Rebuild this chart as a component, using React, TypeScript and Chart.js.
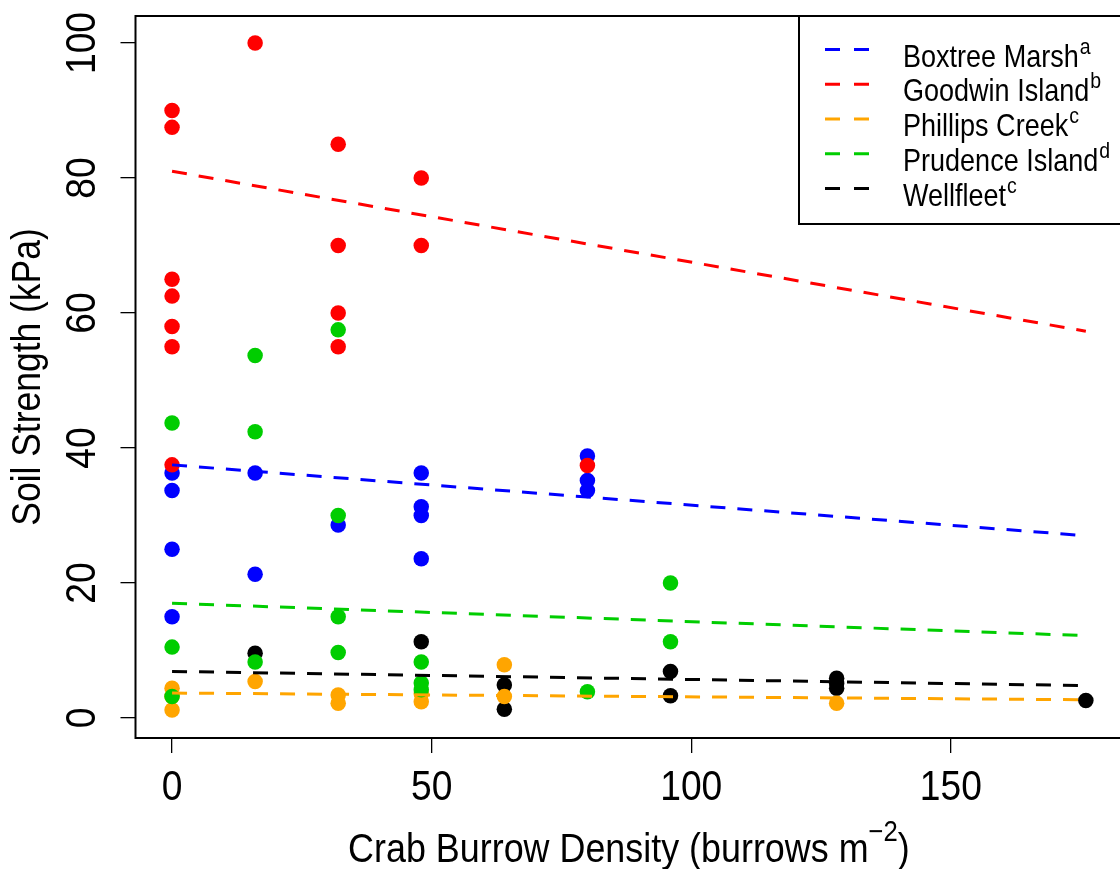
import React, { useEffect, useRef } from "react";
import { Chart, registerables } from "chart.js";

Chart.register(...registerables);

// ---------------- data ----------------
const SITES = ["Boxtree Marsh", "Goodwin Island", "Phillips Creek", "Prudence Island", "Wellfleet"];
const SITE_SUPS = ["a", "b", "c", "d", "c"];

const BOXTREE_X = [0, 0, 0, 0, 16, 16, 32, 48, 48, 48, 48, 80, 80, 80];
const BOXTREE_Y = [36.3, 33.7, 25.0, 15.0, 36.3, 21.3, 28.6, 36.3, 31.3, 30.0, 23.6, 38.8, 35.2, 33.7];

const GOODWIN_X = [0, 0, 0, 0, 0, 0, 0, 16, 32, 32, 32, 32, 48, 48, 80];
const GOODWIN_Y = [90.0, 87.5, 65.0, 62.5, 58.0, 55.0, 37.5, 100.0, 85.0, 70.0, 60.0, 55.0, 80.0, 70.0, 37.4];

const PHILLIPS_X = [0, 0, 0, 16, 32, 32, 48, 48, 64, 64, 128];
const PHILLIPS_Y = [4.4, 3.2, 1.2, 5.4, 3.4, 2.2, 3.6, 2.4, 7.9, 3.2, 2.2];

const PRUDENCE_X = [0, 0, 0, 16, 16, 16, 32, 32, 32, 32, 48, 48, 48, 80, 96, 96];
const PRUDENCE_Y = [43.7, 10.5, 3.2, 53.7, 42.4, 8.3, 57.5, 30.0, 15.0, 9.7, 8.3, 5.2, 4.2, 3.9, 20.0, 11.3];

const WELLFLEET_X = [16, 48, 64, 64, 96, 96, 128, 128, 128, 176];
const WELLFLEET_Y = [9.6, 11.3, 4.9, 1.3, 6.9, 3.3, 5.9, 5.1, 4.4, 2.6];

// fitted trend lines (end points)
const FIT_X = [0, 176];
const BOXTREE_FIT = [37.5, 27.0];
const GOODWIN_FIT = [81.0, 57.3];
const PHILLIPS_FIT = [3.7, 2.7];
const PRUDENCE_FIT = [17.0, 12.2];
const WELLFLEET_FIT = [6.9, 4.8];

const X_TICKS = [0, 50, 100, 150];
const Y_TICKS = [0, 20, 40, 60, 80, 100];

const X_TITLE_MAIN = "Crab Burrow Density (burrows m";
const X_TITLE_SUP = "\u22122";
const X_TITLE_END = ")";
const Y_TITLE = "Soil Strength (kPa)";

// ---------------- styles ----------------
const COLORS = ["#0000FF", "#FF0000", "#FFA500", "#00CD00", "#000000"];
const POINT_ORDER = [5, 4, 2, 1, 3]; // green on top, then orange, black, red, blue
const FONT = '"Liberation Sans", Arial, Helvetica, sans-serif';
const SX = 0.886; // glyph width compression

const POINTS_X = [BOXTREE_X, GOODWIN_X, PHILLIPS_X, PRUDENCE_X, WELLFLEET_X];
const POINTS_Y = [BOXTREE_Y, GOODWIN_Y, PHILLIPS_Y, PRUDENCE_Y, WELLFLEET_Y];
const FITS = [BOXTREE_FIT, GOODWIN_FIT, PHILLIPS_FIT, PRUDENCE_FIT, WELLFLEET_FIT];

type Part = { t: string; size: number; dy: number };

function drawRich(ctx: CanvasRenderingContext2D, parts: Part[], x: number, y: number, align: "center" | "left") {
  let total = 0;
  const widths = parts.map((p) => {
    ctx.font = `${p.size}px ${FONT}`;
    const w = ctx.measureText(p.t).width;
    total += w;
    return w;
  });
  ctx.save();
  ctx.translate(x, y);
  ctx.scale(SX, 1);
  let cx = align === "center" ? -total / 2 : 0;
  ctx.textAlign = "left";
  ctx.textBaseline = "alphabetic";
  parts.forEach((p, i) => {
    ctx.font = `${p.size}px ${FONT}`;
    ctx.fillText(p.t, cx, p.dy);
    cx += widths[i];
  });
  ctx.restore();
}

const decorPlugin = {
  id: "rdecor",
  afterDraw(chart: any) {
    const { ctx, chartArea: ca, scales } = chart;
    const xs = scales.x;
    const ys = scales.y;
    ctx.save();
    // plot box
    ctx.strokeStyle = "#000";
    ctx.lineWidth = 2;
    ctx.setLineDash([]);
    ctx.strokeRect(ca.left, ca.top, ca.right - ca.left, ca.bottom - ca.top);

    ctx.fillStyle = "#000";
    // x tick labels
    X_TICKS.forEach((v) => drawRich(ctx, [{ t: String(v), size: 42, dy: 0 }], xs.getPixelForValue(v), 800, "center"));
    // y tick labels (rotated)
    Y_TICKS.forEach((v) => {
      const y = ys.getPixelForValue(v);
      ctx.save();
      ctx.translate(95, y);
      ctx.rotate(-Math.PI / 2);
      drawRich(ctx, [{ t: String(v), size: 42, dy: 0 }], 0, 0, "center");
      ctx.restore();
    });

    // x title
    drawRich(
      ctx,
      [
        { t: X_TITLE_MAIN, size: 40.5, dy: 0 },
        { t: X_TITLE_SUP, size: 29, dy: -21 },
        { t: X_TITLE_END, size: 40.5, dy: 0 },
      ],
      (ca.left + ca.right) / 2,
      862,
      "center"
    );
    // y title
    ctx.save();
    ctx.translate(40, (ca.top + ca.bottom) / 2);
    ctx.rotate(-Math.PI / 2);
    drawRich(ctx, [{ t: Y_TITLE, size: 40, dy: 0 }], 0, 0, "center");
    ctx.restore();

    // legend
    ctx.strokeStyle = "#000";
    ctx.lineWidth = 2;
    ctx.strokeRect(799, 16, ca.right - 799, 224 - 16);
    SITES.forEach((name, i) => {
      const ly = 49.5 + i * 34.75;
      ctx.save();
      ctx.strokeStyle = COLORS[i];
      ctx.lineWidth = 3;
      ctx.setLineDash([15, 14]);
      ctx.beginPath();
      ctx.moveTo(825, ly);
      ctx.lineTo(870, ly);
      ctx.stroke();
      ctx.restore();
      ctx.fillStyle = "#000";
      drawRich(
        ctx,
        [
          { t: name, size: 30.5, dy: 0 },
          { t: " ", size: 4, dy: 0 },
          { t: SITE_SUPS[i], size: 22, dy: -13 },
        ],
        903,
        ly + 17,
        "left"
      );
    });
    ctx.restore();
  },
};

export default function App() {
  const canvasRef = useRef<HTMLCanvasElement | null>(null);

  useEffect(() => {
    const canvas = canvasRef.current;
    if (!canvas) return;

    const pointSets = SITES.map((name, i) => ({
      type: "scatter" as const,
      label: name,
      data: POINTS_X[i].map((x, j) => ({ x, y: POINTS_Y[i][j] })),
      backgroundColor: COLORS[i],
      borderColor: COLORS[i],
      borderWidth: 0,
      pointRadius: 7.75,
      pointHoverRadius: 7.75,
      order: POINT_ORDER[i],
    }));
    const lineSets = SITES.map((name, i) => ({
      type: "line" as const,
      label: name + " fit",
      data: FIT_X.map((x, j) => ({ x, y: FITS[i][j] })),
      borderColor: COLORS[i],
      backgroundColor: COLORS[i],
      borderWidth: 3,
      borderDash: [15, 12],
      pointRadius: 0,
      fill: false,
      tension: 0,
      order: 0,
    }));

    const chart = new Chart(canvas, {
      type: "scatter",
      data: { datasets: [...lineSets, ...pointSets] as any },
      options: {
        responsive: false,
        animation: false,
        devicePixelRatio: 1,
        events: [],
        layout: { padding: { top: 16, right: 17.6, bottom: 0, left: 0 } },
        plugins: { legend: { display: false }, tooltip: { enabled: false } },
        scales: {
          x: {
            type: "linear",
            min: -7.04,
            max: 183.04,
            afterBuildTicks: (s: any) => {
              s.ticks = X_TICKS.map((v) => ({ value: v }));
            },
            afterFit: (s: any) => {
              s.height = 131;
            },
            grid: { drawOnChartArea: false, drawTicks: true, tickLength: 15, color: "#000", lineWidth: 1.3 },
            border: { display: false },
            ticks: { display: false },
          },
          y: {
            type: "linear",
            min: -2.963,
            max: 104.0,
            afterBuildTicks: (s: any) => {
              s.ticks = Y_TICKS.map((v) => ({ value: v }));
            },
            afterFit: (s: any) => {
              s.width = 135.5;
            },
            grid: { drawOnChartArea: false, drawTicks: true, tickLength: 15, color: "#000", lineWidth: 1.3 },
            border: { display: false },
            ticks: { display: false },
          },
        },
      } as any,
      plugins: [decorPlugin],
    });
    return () => chart.destroy();
  }, []);

  return (
    <div
      style={{
        position: "absolute",
        left: 0,
        top: 0,
        width: 1120,
        height: 869,
        overflow: "hidden",
        background: "#fff",
      }}
    >
      <canvas ref={canvasRef} width={1140} height={869} style={{ width: 1140, height: 869, display: "block" }} />
    </div>
  );
}
